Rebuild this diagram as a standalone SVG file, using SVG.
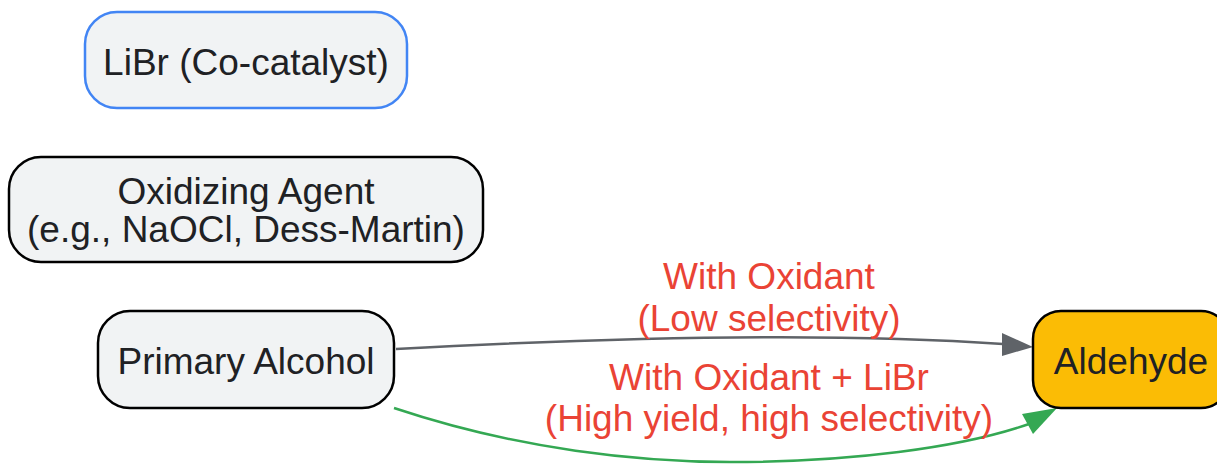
<svg xmlns="http://www.w3.org/2000/svg" width="1217" height="464" viewBox="0 0 1217 464">
<style>
.node rect{fill:#f1f3f4;stroke:#000;stroke-width:2.5}
.t{font-family:"Liberation Sans",Arial,sans-serif;font-size:37px;fill:#202124;text-anchor:middle}
.lbl{font-family:"Liberation Sans",Arial,sans-serif;font-size:37px;fill:#ea4335;text-anchor:middle}
.edge{fill:none;stroke-width:2.5}
</style>
<g id="connectors">
<path class="edge" stroke="#5f6368" d="M396,349 C600,338 830,332 1003,344"/>
<path d="M1033,347 L1002,333 L1002,356 z" fill="#5f6368"/>
<path class="edge" stroke="#34a853" d="M394,408 C520,450 640,462 730,462 C850,462 960,448 1029,424"/>
<path d="M1057,408 L1022,414 L1033,434 z" fill="#34a853"/>
</g>
<g id="labels">
<text class="lbl" x="769" y="289">With Oxidant</text>
<text class="lbl" x="769" y="331">(Low selectivity)</text>
<text class="lbl" x="769" y="390">With Oxidant + LiBr</text>
<text class="lbl" x="769" y="431">(High yield, high selectivity)</text>
</g>
<g id="libr" class="node">
<rect x="85" y="12" width="322" height="96" rx="32" style="stroke:#4285f4"/>
<text class="t" x="246" y="75">LiBr (Co-catalyst)</text>
</g>
<g id="oxidant" class="node">
<rect x="9" y="157" width="474" height="105" rx="32"/>
<text class="t" x="246" y="204">Oxidizing Agent</text>
<text class="t" x="246" y="242">(e.g., NaOCl, Dess-Martin)</text>
</g>
<g id="alcohol" class="node">
<rect x="98" y="311" width="296" height="97" rx="32"/>
<text class="t" x="246" y="374">Primary Alcohol</text>
</g>
<g id="aldehyde" class="node">
<rect x="1033" y="311" width="196" height="97" rx="28" style="fill:#fbbc05"/>
<text class="t" x="1131" y="374">Aldehyde</text>
</g>
</svg>
